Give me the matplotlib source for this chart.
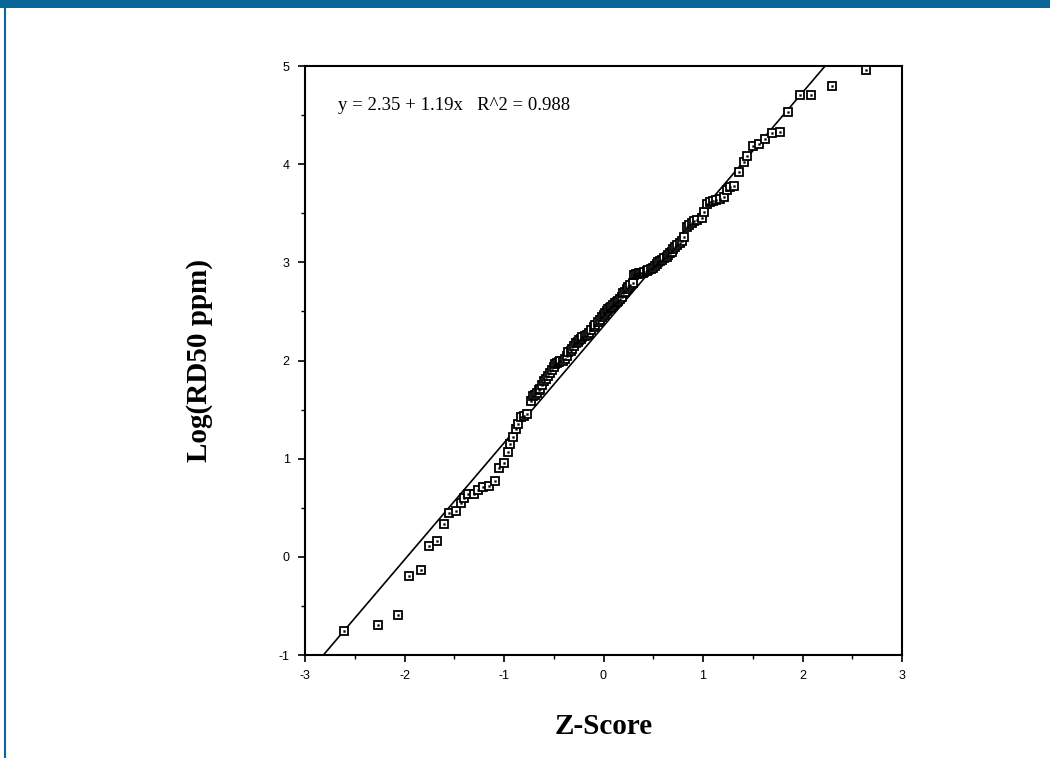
import matplotlib
matplotlib.use("Agg")
import matplotlib.pyplot as plt
from matplotlib.patches import Rectangle
from matplotlib.lines import Line2D

plt.rcParams["axes.unicode_minus"] = False

# ---- data ----
z_score = [
    -2.61, -2.27, -2.07, -1.95, -1.83, -1.75, -1.67, -1.60, -1.55, -1.48,
    -1.43, -1.40, -1.36, -1.30, -1.26, -1.21, -1.15, -1.09, -1.05, -1.00,
    -0.96, -0.94, -0.91, -0.88, -0.86, -0.83, -0.80, -0.77, -0.73, -0.71,
    -0.69, -0.67, -0.65, -0.64, -0.62, -0.60, -0.58, -0.555, -0.54, -0.52,
    -0.50, -0.487, -0.47, -0.45, -0.437, -0.41, -0.387, -0.37, -0.354, -0.33,
    -0.314, -0.30, -0.28, -0.26, -0.246, -0.23, -0.213, -0.19, -0.17, -0.15,
    -0.126, -0.10, -0.085, -0.06, -0.035, -0.02, 0.00, 0.015, 0.032, 0.05,
    0.065, 0.08, 0.098, 0.115, 0.133, 0.149, 0.166, 0.183, 0.20, 0.216,
    0.233, 0.249, 0.266, 0.30, 0.31, 0.327, 0.345, 0.36, 0.38, 0.394,
    0.41, 0.434, 0.45, 0.474, 0.50, 0.518, 0.535, 0.551, 0.57, 0.585,
    0.61, 0.635, 0.65, 0.668, 0.685, 0.701, 0.72, 0.742, 0.765, 0.786,
    0.809, 0.836, 0.86, 0.886, 0.91, 0.937, 0.987, 1.01, 1.043, 1.07,
    1.10, 1.131, 1.171, 1.211, 1.244, 1.271, 1.315, 1.362, 1.415, 1.445,
    1.499, 1.566, 1.623, 1.693, 1.774, 1.851, 1.975, 2.085, 2.293, 2.638,
]
log_rd50 = [
    -0.76, -0.69, -0.59, -0.20, -0.13, 0.11, 0.16, 0.33, 0.45, 0.47,
    0.55, 0.60, 0.64, 0.64, 0.68, 0.71, 0.72, 0.77, 0.91, 0.96,
    1.07, 1.15, 1.22, 1.30, 1.35, 1.42, 1.43, 1.45, 1.59, 1.64,
    1.65, 1.67, 1.70, 1.71, 1.75, 1.79, 1.81, 1.84, 1.87, 1.90,
    1.93, 1.96, 1.97, 1.98, 1.99, 2.00, 2.02, 2.05, 2.085, 2.10,
    2.12, 2.15, 2.18, 2.19, 2.21, 2.22, 2.24, 2.25, 2.26, 2.28,
    2.31, 2.34, 2.36, 2.39, 2.41, 2.44, 2.46, 2.48, 2.50, 2.52,
    2.53, 2.55, 2.57, 2.59, 2.60, 2.61, 2.63, 2.65, 2.685, 2.70,
    2.73, 2.75, 2.77, 2.79, 2.87, 2.88, 2.885, 2.89, 2.89, 2.895,
    2.90, 2.91, 2.92, 2.93, 2.94, 2.96, 2.98, 3.00, 3.01, 3.02,
    3.04, 3.05, 3.07, 3.09, 3.11, 3.14, 3.16, 3.18, 3.20, 3.22,
    3.26, 3.36, 3.38, 3.40, 3.42, 3.43, 3.45, 3.51, 3.595, 3.61,
    3.62, 3.63, 3.65, 3.67, 3.74, 3.77, 3.78, 3.92, 4.02, 4.08,
    4.185, 4.21, 4.26, 4.315, 4.33, 4.535, 4.70, 4.70, 4.80, 4.96,
]
fit_intercept = 2.35
fit_slope = 1.19
r_squared = 0.988
x_ticks = [-3, -2, -1, 0, 1, 2, 3]
y_ticks = [-1, 0, 1, 2, 3, 4, 5]

# ---- figure ----
fig = plt.figure(figsize=(10.5, 7.58), dpi=100)
blue = "#0A6699"
fig.add_artist(Rectangle((0, 1 - 8 / 758), 1, 8 / 758, transform=fig.transFigure,
                         facecolor=blue, edgecolor="none"))
fig.add_artist(Line2D([4.5 / 1050, 4.5 / 1050], [0, 1], transform=fig.transFigure,
                      color=blue, lw=1.5))

ax = fig.add_axes([305 / 1050, 1 - 655 / 758, 597 / 1050, 589 / 758])
ax.set_xlim(-3, 3)
ax.set_ylim(-1, 5)

# regression line
y_lo, y_hi = -1, 5
x_lo = (y_lo - fit_intercept) / fit_slope
x_hi = (y_hi - fit_intercept) / fit_slope
ax.plot([x_lo, x_hi], [y_lo, y_hi], color="black", lw=1.2, zorder=2)

# boxed-dot markers
ax.plot(z_score, log_rd50, linestyle="none", marker="s", markersize=6.3,
        markerfacecolor="white", markeredgecolor="black", markeredgewidth=1.3, zorder=3)
ax.plot(z_score, log_rd50, linestyle="none", marker="s", markersize=1.3,
        markerfacecolor="black", markeredgecolor="black", markeredgewidth=0.3, zorder=4)

ax.text(0.055, 4.60, "y = %.2f + %.2fx   R^2 = %.3f" % (fit_intercept, fit_slope, r_squared),
        transform=ax.get_yaxis_transform(), fontsize=13.5, family="Liberation Serif",
        va="center", ha="left")

ax.set_xticks(x_ticks)
ax.set_yticks(y_ticks)
ax.set_xticks([-2.5, -1.5, -0.5, 0.5, 1.5, 2.5], minor=True)
ax.set_yticks([-0.5, 0.5, 1.5, 2.5, 3.5, 4.5], minor=True)
ax.tick_params(which="major", direction="out", length=5, width=1.2,
               labelsize=9, pad=6)
ax.tick_params(which="minor", direction="out", length=3, width=1.0)
for lab in ax.get_xticklabels() + ax.get_yticklabels():
    lab.set_family("Liberation Sans")
for sp in ax.spines.values():
    sp.set_linewidth(1.5)

ax.set_xlabel("Z-Score", fontsize=21, fontweight="bold", family="Liberation Serif",
              labelpad=22)
ax.set_ylabel("Log(RD50 ppm)", fontsize=21, fontweight="bold", family="Liberation Serif")
ax.yaxis.set_label_coords(-(305 - 213) / 597, 0.5)

fig.savefig("out.png", dpi=100)
